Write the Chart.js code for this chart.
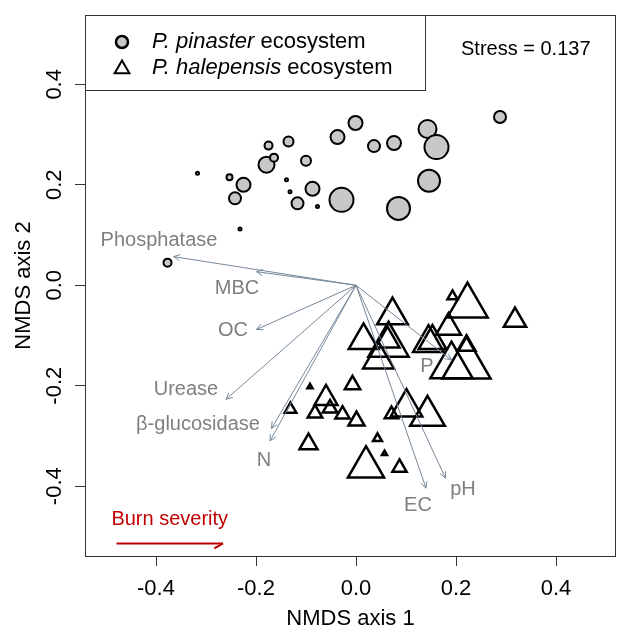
<!DOCTYPE html>
<html>
<head>
<meta charset="utf-8">
<script src="https://cdn.jsdelivr.net/npm/chart.js@4"></script>
<style>
  html, body { margin: 0; padding: 0; background: #fff; }
  #wrap { width: 617px; height: 632px; }
</style>
</head>
<body>
<div id="wrap"><canvas id="nmds" width="617" height="632"></canvas></div>
<script>
const xTicks = [-0.4, -0.2, 0.0, 0.2, 0.4];
const yTicks = [-0.4, -0.2, 0.0, 0.2, 0.4];

// P. pinaster plots (circles), size = symbol radius
const pinasterX = [-0.317, -0.253, -0.225, -0.242, -0.232, -0.175, -0.179, -0.164, -0.135, -0.139, -0.132, -0.100, -0.087,
  -0.117, -0.077, -0.029, -0.037, -0.001, 0.036, 0.076, 0.143, 0.161, 0.146, 0.085, 0.288, -0.377];
const pinasterY = [0.223, 0.215, 0.200, 0.173, 0.112, 0.278, 0.240, 0.254, 0.286, 0.210, 0.186, 0.248, 0.192,
  0.163, 0.157, 0.170, 0.295, 0.323, 0.277, 0.283, 0.311, 0.275, 0.208, 0.153, 0.335, 0.045];
const pinasterSize = [1.5, 3, 7, 6, 1.5, 4, 8, 4, 5, 1.5, 1.5, 5, 7,
  6, 1.5, 12, 7, 7, 6, 7, 9, 12, 11, 11.5, 6, 4];

// P. halepensis plots (triangles)
const halepensisX = [0.223, 0.193, 0.318, 0.073, 0.185, 0.015, 0.065, 0.063, 0.045, 0.145, 0.153, 0.221, 0.191, 0.221,
  -0.007, 0.101, 0.143, 0.071, 0.043, 0.020, 0.057, 0.087, -0.095, -0.092, -0.060, -0.052, -0.082, -0.027, 0.001, -0.131];
const halepensisY = [-0.041, -0.022, -0.070, -0.060, -0.084, -0.110, -0.119, -0.110, -0.148, -0.115, -0.111, -0.120, -0.161, -0.158,
  -0.198, -0.243, -0.260, -0.257, -0.305, -0.362, -0.335, -0.363, -0.316, -0.202, -0.225, -0.245, -0.255, -0.257, -0.270, -0.247];
const halepensisSize = [23.3, 5.8, 12.9, 17.8, 14.4, 17.1, 23.3, 13.8, 17.8, 17.8, 16, 10.4, 24.4, 27.8,
  8.9, 18.2, 20, 7.8, 5.1, 20.9, 2.9, 8.2, 10.4, 2.9, 13.3, 8.4, 8.4, 8.2, 9.3, 6.7];

// fitted soil variables
const vectorNames = ['Phosphatase', 'MBC', 'OC', 'Urease', 'β-glucosidase', 'N', 'P', 'pH', 'EC'];
const vectorX = [-0.365, -0.199, -0.199, -0.260, -0.169, -0.172, 0.191, 0.179, 0.140];
const vectorY = [0.057, 0.027, -0.088, -0.227, -0.285, -0.310, -0.149, -0.384, -0.404];
const vectorLabelX = [-0.394, -0.238, -0.246, -0.340, -0.316, -0.184, 0.142, 0.214, 0.124];
const vectorLabelY = [0.090, -0.007, -0.091, -0.207, -0.278, -0.348, -0.161, -0.406, -0.438];

const severityX = [-0.479, -0.266];
const severityY = [-0.514, -0.514];
const severityLabel = 'Burn severity';
const stressValue = 0.137;

const FONT = '"Liberation Sans", Arial, sans-serif';
Chart.defaults.font.family = FONT;

const toPoints = (xs, ys, rs) => xs.map((x, i) => ({x: x, y: ys[i], r: rs[i]}));

function arrowHead(ctx, x0, y0, x1, y1, len, ang, both) {
  const a = Math.atan2(y1 - y0, x1 - x0);
  ctx.beginPath();
  ctx.moveTo(x1 - len * Math.cos(a - ang), y1 - len * Math.sin(a - ang));
  ctx.lineTo(x1, y1);
  if (both) ctx.lineTo(x1 - len * Math.cos(a + ang), y1 - len * Math.sin(a + ang));
  ctx.stroke();
}

const decor = {
  id: 'decor',
  afterDatasetsDraw(chart) {
    const ctx = chart.ctx;
    const xs = chart.scales.x, ys = chart.scales.y;
    const area = chart.chartArea;
    ctx.save();

    // arrow heads + labels for vectors
    ctx.strokeStyle = '#778899';
    ctx.lineWidth = 1;
    const ox = xs.getPixelForValue(0), oy = ys.getPixelForValue(0);
    vectorNames.forEach((name, i) => {
      arrowHead(ctx, ox, oy, xs.getPixelForValue(vectorX[i]), ys.getPixelForValue(vectorY[i]), 7, Math.PI / 7, true);
    });
    ctx.fillStyle = '#7f7f7f';
    ctx.font = '20px ' + FONT;
    ctx.textAlign = 'center';
    ctx.textBaseline = 'middle';
    vectorNames.forEach((name, i) => {
      ctx.fillText(name, xs.getPixelForValue(vectorLabelX[i]), ys.getPixelForValue(vectorLabelY[i]));
    });

    // burn severity
    ctx.strokeStyle = '#c00000';
    ctx.lineWidth = 2;
    arrowHead(ctx, xs.getPixelForValue(severityX[0]), ys.getPixelForValue(severityY[0]),
      xs.getPixelForValue(severityX[1]), ys.getPixelForValue(severityY[1]), 10, Math.PI / 6, false);
    ctx.fillStyle = '#c00000';
    ctx.fillText(severityLabel, xs.getPixelForValue((severityX[0] + severityX[1]) / 2), ys.getPixelForValue(severityY[0]) - 24);

    // frame
    ctx.strokeStyle = '#333';
    ctx.lineWidth = 1;
    ctx.strokeRect(area.left + 0.5, area.top + 0.5, area.right - area.left - 1, area.bottom - area.top);

    // y tick labels (rotated like base R)
    ctx.fillStyle = '#000';
    ctx.font = '22px ' + FONT;
    yTicks.forEach(v => {
      ctx.save();
      ctx.translate(55, ys.getPixelForValue(v));
      ctx.rotate(-Math.PI / 2);
      ctx.fillText(v.toFixed(1), 0, 0);
      ctx.restore();
    });

    // legend box
    const lx = area.left, ly = area.top;
    ctx.fillStyle = '#fff';
    ctx.fillRect(lx, ly, 340, 75);
    ctx.strokeStyle = '#333';
    ctx.strokeRect(lx + 0.5, ly + 0.5, 340, 75);
    ctx.lineWidth = 2.5;
    ctx.strokeStyle = '#000';
    ctx.fillStyle = '#c8c8c8';
    ctx.beginPath();
    ctx.arc(lx + 37, ly + 27, 6, 0, Math.PI * 2);
    ctx.fill();
    ctx.stroke();
    ctx.lineWidth = 2;
    const tr = 8.5, tcx = lx + 37, tcy = ly + 54;
    ctx.beginPath();
    ctx.moveTo(tcx, tcy - tr);
    ctx.lineTo(tcx + tr * 0.866, tcy + tr / 2);
    ctx.lineTo(tcx - tr * 0.866, tcy + tr / 2);
    ctx.closePath();
    ctx.stroke();

    ctx.fillStyle = '#000';
    ctx.textAlign = 'left';
    const rows = [['P. pinaster', ' ecosystem'], ['P. halepensis', ' ecosystem']];
    rows.forEach((row, i) => {
      const ty = ly + 27 + i * 26;
      ctx.font = 'italic 22px ' + FONT;
      ctx.fillText(row[0], lx + 67, ty);
      const w = ctx.measureText(row[0]).width;
      ctx.font = '22px ' + FONT;
      ctx.fillText(row[1], lx + 67 + w, ty);
    });

    ctx.font = '20px ' + FONT;
    ctx.fillText('Stress = ' + stressValue.toFixed(3), 461, 49);
    ctx.restore();
  }
};

const datasets = [];
vectorNames.forEach((name, i) => {
  datasets.push({
    type: 'line', label: name,
    data: [{x: 0, y: 0}, {x: vectorX[i], y: vectorY[i]}],
    borderColor: '#778899', borderWidth: 1, pointRadius: 0, fill: false, order: 1
  });
});
datasets.push({
  type: 'line', label: severityLabel,
  data: severityX.map((x, i) => ({x: x, y: severityY[i]})),
  borderColor: '#c00000', borderWidth: 2, pointRadius: 0, fill: false, order: 1
});
datasets.push({
  label: 'P. pinaster ecosystem',
  data: toPoints(pinasterX, pinasterY, pinasterSize),
  pointStyle: 'circle', backgroundColor: '#c8c8c8', borderColor: '#000', borderWidth: 2, order: 2
});
datasets.push({
  label: 'P. halepensis ecosystem',
  data: toPoints(halepensisX, halepensisY, halepensisSize),
  pointStyle: 'triangle', backgroundColor: 'rgba(0,0,0,0)', borderColor: '#000', borderWidth: 2.5, order: 2
});

new Chart(document.getElementById('nmds'), {
  type: 'bubble',
  data: { datasets: datasets },
  options: {
    responsive: false,
    animation: false,
    events: [],
    layout: { autoPadding: false, padding: { top: 15, right: 1, left: 0, bottom: 0 } },
    plugins: { legend: { display: false }, tooltip: { enabled: false } },
    scales: {
      x: {
        type: 'linear', min: -0.542, max: 0.52,
        afterBuildTicks: s => { s.ticks = xTicks.map(v => ({value: v})); },
        afterFit: s => { s.height = 76; },
        ticks: { color: '#000', font: { size: 22 }, padding: 10, callback: v => v.toFixed(1) },
        grid: { drawOnChartArea: false, drawTicks: true, tickLength: 10, color: '#333' },
        border: { display: false },
        title: { display: true, text: 'NMDS axis 1', color: '#000', font: { size: 22 }, padding: 0 }
      },
      y: {
        type: 'linear', min: -0.539, max: 0.538,
        afterBuildTicks: s => { s.ticks = yTicks.map(v => ({value: v})); },
        afterFit: s => { s.width = 85; },
        ticks: { display: false },
        grid: { drawOnChartArea: false, drawTicks: true, tickLength: 10, color: '#333' },
        border: { display: false },
        title: { display: true, text: 'NMDS axis 2', color: '#000', font: { size: 22 }, padding: { top: 11, bottom: 0 } }
      }
    }
  },
  plugins: [decor]
});
</script>
</body>
</html>
